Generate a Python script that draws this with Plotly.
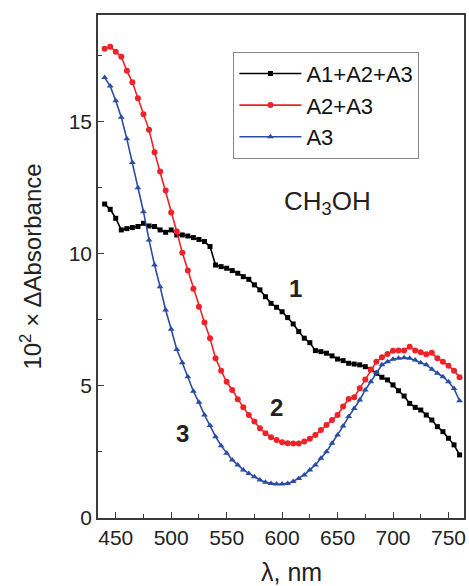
import plotly.graph_objects as go

# Wavelength grid (nm)
wavelength = list(range(440, 765, 5))

# 10^2 x delta absorbance, CH3OH
a123 = [11.89, 11.69, 11.35, 10.91, 10.96, 11.00, 11.04, 11.16, 11.06, 11.04,
        10.91, 10.82, 10.91, 10.72, 10.72, 10.68, 10.62, 10.55, 10.47, 10.28,
        9.58, 9.52, 9.46, 9.37, 9.27, 9.14, 9.04, 8.83, 8.64, 8.38,
        8.13, 7.98, 7.81, 7.59, 7.35, 7.06, 6.81, 6.64, 6.34, 6.30,
        6.24, 6.14, 6.02, 5.96, 5.86, 5.83, 5.80, 5.73, 5.63, 5.48,
        5.33, 5.23, 5.04, 4.82, 4.62, 4.34, 4.19, 4.09, 3.90, 3.71,
        3.46, 3.27, 3.02, 2.77, 2.39]

a23 = [17.77, 17.85, 17.66, 17.47, 16.94, 16.50, 15.90, 15.29, 14.70, 13.85,
       13.12, 12.40, 11.57, 10.85, 10.05, 9.37, 8.68, 8.00, 7.40, 6.81,
       6.05, 5.58, 5.16, 4.85, 4.50, 4.19, 3.90, 3.65, 3.40, 3.21,
       3.06, 2.95, 2.87, 2.83, 2.82, 2.82, 2.90, 3.00, 3.14, 3.33,
       3.52, 3.71, 3.90, 4.22, 4.51, 4.57, 4.91, 5.25, 5.61, 5.92,
       6.09, 6.21, 6.33, 6.34, 6.34, 6.49, 6.34, 6.28, 6.20, 6.26,
       6.05, 5.92, 5.77, 5.58, 5.33]

a3 = [16.68, 16.36, 15.80, 15.18, 14.36, 13.46, 12.51, 11.60, 10.53, 9.58,
      8.76, 7.88, 7.15, 6.38, 5.88, 5.35, 4.80, 4.38, 3.90, 3.50,
      3.08, 2.74, 2.45, 2.20, 2.01, 1.82, 1.69, 1.56, 1.44, 1.35,
      1.31, 1.29, 1.29, 1.31, 1.38, 1.50, 1.63, 1.82, 2.01, 2.26,
      2.51, 2.83, 3.14, 3.48, 3.84, 4.15, 4.47, 4.85, 5.16, 5.51,
      5.80, 5.92, 6.01, 6.05, 6.07, 6.05, 5.98, 5.88, 5.80, 5.63,
      5.48, 5.35, 5.16, 4.90, 4.44]

series_names = ["A1+A2+A3", "A2+A3", "A3"]
series_values = [a123, a23, a3]
series_colors = ["#000000", "#ee2228", "#2a4da3"]
series_symbols = ["square", "circle", "triangle-up"]
series_sizes = [5, 6, 6]

# Curve numbers placed next to each curve
curve_labels = ["1", "2", "3"]
curve_label_x = [612, 595, 510]
curve_label_y = [8.7, 4.2, 3.2]

FONT = "Liberation Sans, Arial, sans-serif"
INK = "#222222"

fig = go.Figure()
for name, vals, col, sym, sz in zip(series_names, series_values, series_colors,
                                    series_symbols, series_sizes):
    fig.add_trace(go.Scatter(
        x=wavelength, y=vals, name=name, mode="lines+markers",
        line=dict(color=col, width=1.6),
        marker=dict(symbol=sym, size=sz, color=col, line=dict(width=0)),
    ))

for t, x, y in zip(curve_labels, curve_label_x, curve_label_y):
    fig.add_annotation(x=x, y=y, text=f"<b>{t}</b>", showarrow=False,
                       font=dict(family=FONT, size=24, color=INK))

fig.add_annotation(x=641, y=11.95, text="CH<sub>3</sub>OH", showarrow=False,
                   font=dict(family=FONT, size=26, color=INK))

# x-axis title, set slightly right of the plot centre
fig.add_annotation(x=0.53, y=-0.107, xref="paper", yref="paper",
                   xanchor="center", yanchor="middle",
                   text="λ, nm", showarrow=False,
                   font=dict(family=FONT, size=25, color=INK))

axis_common = dict(
    showline=True, linecolor="#3a3a3a", linewidth=1.5, mirror=True,
    ticks="inside", ticklen=6, tickwidth=1.2, tickcolor="#3a3a3a",
    showgrid=False, zeroline=False,
    tickfont=dict(family=FONT, size=21, color=INK),
)

fig.update_xaxes(
    range=[434, 764], tickvals=[450, 500, 550, 600, 650, 700, 750],
    minor=dict(ticks="inside", ticklen=4, tickwidth=1.2, tickcolor="#3a3a3a",
               dtick=25, tick0=425),
    **axis_common,
)
fig.update_yaxes(
    range=[0, 19.05], tickvals=[0, 5, 10, 15],
    minor=dict(ticks="inside", ticklen=4, tickwidth=1.2, tickcolor="#3a3a3a",
               dtick=2.5, tick0=0),
    title=dict(text="10<sup>2</sup> × ΔAbsorbance",
               font=dict(family=FONT, size=24, color=INK), standoff=20),
    **axis_common,
)

fig.update_layout(
    width=469, height=586,
    margin=dict(l=98, r=3, t=15, b=68),
    plot_bgcolor="white", paper_bgcolor="white",
    showlegend=True,
    legend=dict(x=0.37, y=0.927, xanchor="left", yanchor="top",
                bgcolor="white", bordercolor="#888888", borderwidth=1,
                font=dict(family=FONT, size=22, color="#111111"),
                tracegroupgap=0, itemwidth=62),
)

fig.write_html("out.html")
